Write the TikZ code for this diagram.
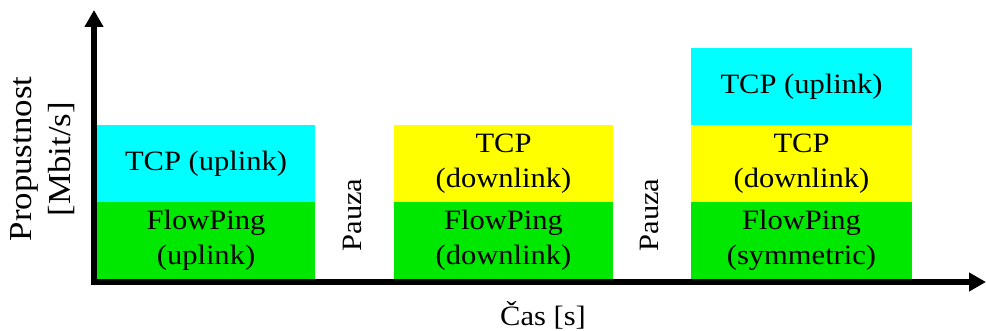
\documentclass[tikz,border=0pt]{standalone}
\usepackage{fontspec}
\setmainfont{Liberation Serif}[FakeStretch=1.09]
\usetikzlibrary{arrows.meta}
\definecolor{fpgreen}{RGB}{0,232,0}
\definecolor{tcpcyan}{RGB}{0,255,255}
\definecolor{tcpyellow}{RGB}{255,255,0}
\tikzset{
  seg/.style={rectangle, inner sep=0pt, minimum height=77pt, align=center,
    font=\fontsize{28}{35}\selectfont},
  axis/.style={line width=6pt, -{Triangle[width=18pt,length=17pt]}},
  lbl/.style={font=\fontsize{28}{35}\selectfont, align=center},
}
\begin{document}
\begin{tikzpicture}[x=1pt,y=-1pt]
\useasboundingbox (0,0) rectangle (986,331);
% first phase
\node[seg, fill=fpgreen, minimum width=218pt] (fp1) at (206,240.5) {FlowPing\\(uplink)};
\node[seg, fill=tcpcyan, minimum width=218pt] (tu1) at (206,163.5) {TCP (uplink)};
% second phase
\node[seg, fill=fpgreen, minimum width=219pt] (fp2) at (503.5,240.5) {FlowPing\\(downlink)};
\node[seg, fill=tcpyellow, minimum width=219pt] (td2) at (503.5,163.5) {TCP\\(downlink)};
% third phase
\node[seg, fill=fpgreen, minimum width=221pt] (fp3) at (801.5,240.5) {FlowPing\\(symmetric)};
\node[seg, fill=tcpyellow, minimum width=221pt] (td3) at (801.5,163.5) {TCP\\(downlink)};
\node[seg, fill=tcpcyan, minimum width=221pt] (tu3) at (801.5,86.5) {TCP (uplink)};
% pauses
\node[lbl, rotate=90] (p1) at (352,215) {Pauza};
\node[lbl, rotate=90] (p2) at (649,215) {Pauza};
% axes
\coordinate (o) at (91,282);
\coordinate (ytip) at (94,10);
\coordinate (xtip) at (986,282);
\draw[axis] (94,282) -- (ytip);
\draw[axis] (o) -- (xtip);
\node[lbl] (xl) at (543,315) {Čas [s]};
\node[font=\fontsize{32}{39}\selectfont, align=center, rotate=90] (yl) at (43,159) {Propustnost\\{}[Mbit/s]};
\end{tikzpicture}
\end{document}
